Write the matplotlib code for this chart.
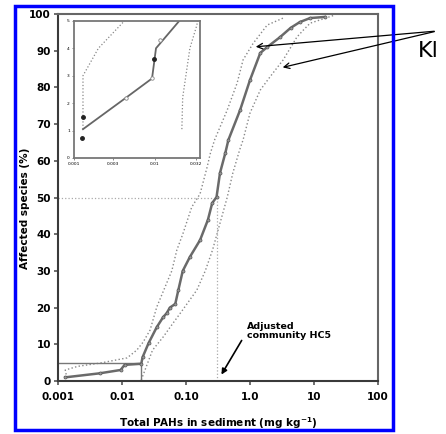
import matplotlib
matplotlib.use('Agg')
import matplotlib.pyplot as plt
import matplotlib.patches as mpatches

# main SSD curve
main_x = [0.0013, 0.0045, 0.0095, 0.011, 0.02, 0.021, 0.026, 0.035, 0.044, 0.050, 0.056,
          0.068, 0.076, 0.089, 0.115, 0.166, 0.22, 0.257, 0.30, 0.34, 0.41, 0.46, 0.70,
          1.0, 1.45, 1.86, 2.95, 4.3, 6.0, 8.7, 14.8]
main_y = [1.0, 2.1, 3.0, 4.4, 4.7, 6.5, 10.3, 14.7, 17.4, 18.5, 20.0,
          21.0, 24.8, 30.0, 33.8, 38.4, 43.9, 48.5, 50.1, 56.7, 62.0, 65.7, 73.8,
          82.0, 89.4, 91.0, 93.7, 96.2, 97.8, 98.9, 99.2]

# confidence limits
upper_x = [0.00138, 0.0013, 0.00204, 0.0046, 0.012, 0.017, 0.0214, 0.0275, 0.035, 0.050,
           0.060, 0.072, 0.089, 0.123, 0.166, 0.214, 0.24, 0.28, 0.44, 0.63, 0.78, 1.12,
           1.86, 3.3]
upper_y = [0.8, 3.0, 4.0, 4.9, 6.3, 8.4, 10.6, 13.9, 20.2, 26.7,
           30.0, 35.7, 40.0, 47.4, 51.0, 58.3, 62.0, 65.7, 73.8, 81.2, 87.5, 92.0,
           97.0, 98.9]
lower_x = [0.02, 0.030, 0.044, 0.063, 0.089, 0.148, 0.20, 0.26, 0.34, 0.44, 0.54, 0.69,
           0.78, 1.0, 1.45, 2.04, 3.3, 5.4, 6.8, 8.7, 21.0]
lower_y = [0.3, 8.4, 12.0, 15.8, 19.4, 24.8, 30.0, 35.7, 43.0, 50.0, 56.7, 63.0,
           65.7, 73.0, 79.3, 82.8, 87.5, 93.7, 95.6, 97.5, 99.7]

# inset (lower tail)
in_line_x = [0.00129, 0.0044, 0.0092, 0.0103, 0.02]
in_line_y = [1.05, 2.2, 2.9, 4.0, 5.0]
in_fill_x = [0.00129, 0.00125, 0.0098]
in_fill_y = [1.49, 0.72, 3.6]
in_open_x = [0.0044, 0.0092, 0.0115]
in_open_y = [2.2, 2.9, 4.3]
in_up_x = [0.00129, 0.00129, 0.002, 0.0042]
in_up_y = [1.05, 3.0, 4.0, 5.0]
in_lo_x = [0.0215, 0.022, 0.027, 0.033, 0.034]
in_lo_y = [1.05, 2.2, 4.0, 4.85, 5.2]

xticks = [0.001, 0.01, 0.1, 1, 10, 100]
xtick_labels = ['0.001', '0.01', '0.10', '1.0', '10', '100']
yticks = list(range(0, 101, 10))
in_xticks = [0.001, 0.003, 0.01, 0.032]
in_xtick_labels = ['0.001', '0.003', '0.01', '0.032']

hc5 = 0.3
spine_col = '#555555'
dot_col = '#888888'

fig = plt.figure(figsize=(4.46, 4.34), dpi=100)
ax = fig.add_axes([0.130, 0.1221, 0.7175, 0.8456])

ax.plot(upper_x, upper_y, ':', color=dot_col, lw=1.0)
ax.plot(lower_x, lower_y, ':', color=dot_col, lw=1.0)
ax.plot([0.001, hc5], [50, 50], ':', color='#aaaaaa', lw=0.9)
ax.plot([hc5, hc5], [0, 50], ':', color='#aaaaaa', lw=0.9)
ax.plot([0.001, 0.02, 0.02], [5, 5, 0], '-', color='#777777', lw=1.0)
ax.plot(main_x, main_y, '-', color='#6a6a6a', lw=1.8, marker='o', ms=2.2,
        mfc='#999999', mec='#555555', mew=0.5)

ax.set_xscale('log')
ax.set_xlim(0.001, 100)
ax.set_ylim(0, 100)
ax.set_xticks(xticks)
ax.set_xticklabels(xtick_labels)
ax.minorticks_off()
ax.set_yticks(yticks)
ax.tick_params(labelsize=7.5, width=1.2, length=3, color=spine_col)
ax.tick_params(axis='x', pad=5)
ax.tick_params(axis='y', pad=2)
for lab in ax.get_xticklabels() + ax.get_yticklabels():
    lab.set_fontweight('bold')
for name, s in ax.spines.items():
    s.set_color('#3a3a3a' if name in ('left', 'bottom') else '#666666')
    s.set_linewidth(1.5)
ax.set_ylabel('Affected species (%)', fontsize=7.5, fontweight='bold')
ax.yaxis.set_label_coords(-0.087, 0.47)
ax.set_xlabel('Total PAHs in sediment (mg kg$^{\\mathbf{-1}}$)', fontsize=7.5,
              fontweight='bold')
ax.xaxis.set_label_coords(0.5, -0.093)

ax.annotate('', xy=(0.34, 1.1), xytext=(0.78, 11.7),
            arrowprops=dict(arrowstyle='-|>', color='black', lw=1.2, mutation_scale=8))
ax.text(0.89, 13.6, 'Adjusted\ncommunity HC5', fontsize=6.8, fontweight='bold',
        ha='left', va='center', linespacing=1.0)

# inset
ins = fig.add_axes([0.166, 0.636, 0.2824, 0.316])
ins.plot(in_up_x, in_up_y, ':', color=dot_col, lw=0.9)
ins.plot(in_lo_x, in_lo_y, ':', color=dot_col, lw=0.9)
ins.plot(in_line_x, in_line_y, '-', color='#666666', lw=1.3)
ins.plot(in_fill_x, in_fill_y, 'o', color='#222222', ms=2.5)
ins.plot(in_open_x, in_open_y, 'o', mfc='white', mec='#888888', ms=2.5, mew=0.6)
ins.set_xscale('log')
ins.set_xlim(0.001, 0.036)
ins.set_ylim(0, 5)
ins.set_xticks(in_xticks)
ins.set_xticklabels(in_xtick_labels)
ins.minorticks_off()
ins.set_yticks(range(6))
ins.tick_params(labelsize=3.2, length=1.5, width=0.6, color='#777777', pad=1.5)
for s in ins.spines.values():
    s.set_color('#777777')
    s.set_linewidth(1.3)

# "Kl" arrows
for hx, hy in [(253, 387), (280, 366)]:
    fig.add_artist(mpatches.FancyArrowPatch((437, 403), (hx, hy), transform=None,
                                            arrowstyle='->', mutation_scale=10,
                                            color='black', lw=0.9))
fig.text(418 / 446, 377 / 434, 'Kl', fontsize=16, ha='left', va='baseline')

frame = mpatches.Rectangle((0.0336, 0.0092), 0.8475, 0.9768, transform=fig.transFigure,
                           fill=False, edgecolor='#0000ff', lw=2.5, zorder=10)
fig.add_artist(frame)

fig.savefig('out.png', dpi=100)
